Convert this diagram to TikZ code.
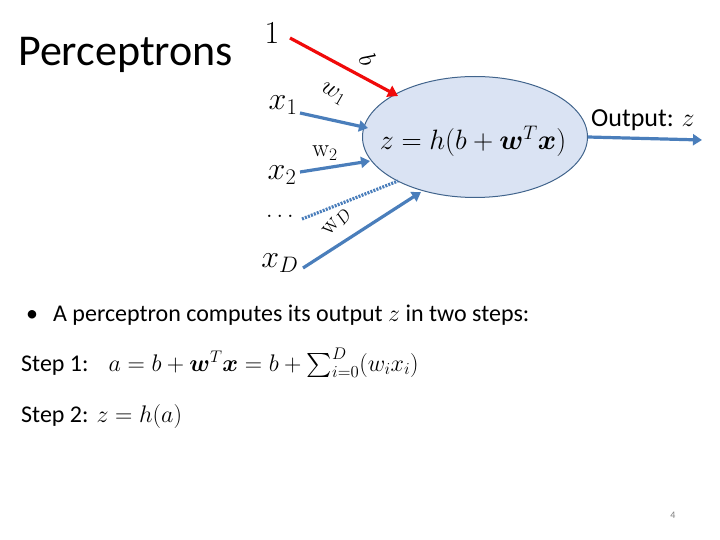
\documentclass[tikz,border=0pt]{standalone}
\usepackage{fix-cm}
\usepackage{amsmath,amssymb}
\usepackage[no-math]{fontspec}
\setmainfont{Carlito}
\usetikzlibrary{arrows.meta,shapes.geometric}
\definecolor{sblue}{RGB}{74,126,187}
\definecolor{eborder}{RGB}{65,100,140}
\definecolor{efill}{RGB}{218,227,243}
\definecolor{sred}{RGB}{240,10,10}
\tikzset{
  inarrow/.style={draw=sblue, line width=3.2pt, -{Triangle[length=9pt,width=11pt]}},
  redarrow/.style={draw=sred, line width=3.2pt, -{Triangle[length=10pt,width=12pt]}},
  dotarrow/.style={draw=sblue, line width=3.2pt, dash pattern=on 2pt off 1.2pt},
  inlabel/.style={inner sep=0pt, font=\fontsize{32}{36}\selectfont},
  wlabel/.style={inner sep=0pt, font=\fontsize{25}{28}\selectfont},
  body/.style={inner sep=0pt, anchor=base west, font=\fontsize{24}{28}\selectfont},
}
\begin{document}
\begin{tikzpicture}[x=1pt,y=-1pt]
\useasboundingbox (0,0) rectangle (720,540);
\node[inner sep=0pt, anchor=base west, font=\fontsize{44}{48}\selectfont] (title) at (18,66) {Perceptrons};
% ellipse
\node[draw=eborder, fill=efill, line width=1pt, ellipse, minimum width=225pt, minimum height=121pt, inner sep=0pt] (neuron) at (475,137) {};
\node[inner sep=0pt, font=\fontsize{28}{32}\selectfont] (formula) at (473,141) {$z = h(b + \boldsymbol{w}^T\boldsymbol{x})$};
% inputs
\node[inlabel] (one) at (272,33) {$1$};
\node[inlabel] (x1) at (283,105) {$x_1$};
\node[inlabel] (x2) at (282,175) {$x_2$};
\node[inlabel, font=\fontsize{24}{28}\selectfont] (dots) at (280,216) {$\ldots$};
\node[inlabel] (xD) at (280,263) {$x_D$};
\coordinate (oneE) at (290,38);
\coordinate (redT) at (398,96);
\coordinate (x1E) at (300,113);
\coordinate (x1T) at (368,128);
\coordinate (x2E) at (300,172);
\coordinate (x2T) at (370,161);
\coordinate (dotE) at (302,219);
\coordinate (dotT) at (398,181);
\coordinate (xDE) at (303,268);
\coordinate (xDT) at (421,192);
\draw[redarrow] (oneE) -- (redT);
\draw[inarrow] (x1E) -- (x1T);
\draw[inarrow] (x2E) -- (x2T);
\draw[dotarrow] (dotE) -- (dotT);
\draw[inarrow] (xDE) -- (xDT);
% weight labels
\node[wlabel, rotate=-65] (b) at (368,60) {$b$};
\node[wlabel, rotate=-30] (w1) at (333,94) {$w_1$};
\node[wlabel] (w2) at (325,153) {$\mathrm{w}_2$};
\node[wlabel, rotate=50] (wD) at (337,222) {$\mathrm{w}_D$};
% output
\coordinate (outT) at (702,140);
\draw[inarrow] (neuron.east) -- (outT);
\node[inner sep=0pt, anchor=base west, font=\fontsize{26}{30}\selectfont] (outlbl) at (591,127) {Output: $z$};
% text
\node[body] (bullet) at (26,321) {\textbullet\hspace{15pt}A perceptron computes its output $z$ in two steps:};
\node[body] (step1) at (21,371) {Step 1:\hspace{20pt}$a = b + \boldsymbol{w}^T\boldsymbol{x} = b + \sum_{i=0}^{D}(w_i x_i)$};
\node[body] (step2) at (21,422) {Step 2:\hspace{8pt}$z = h(a)$};
\node[inner sep=0pt, text=gray, font=\fontsize{10}{12}\selectfont] (page) at (673,515) {4};
\end{tikzpicture}
\end{document}
